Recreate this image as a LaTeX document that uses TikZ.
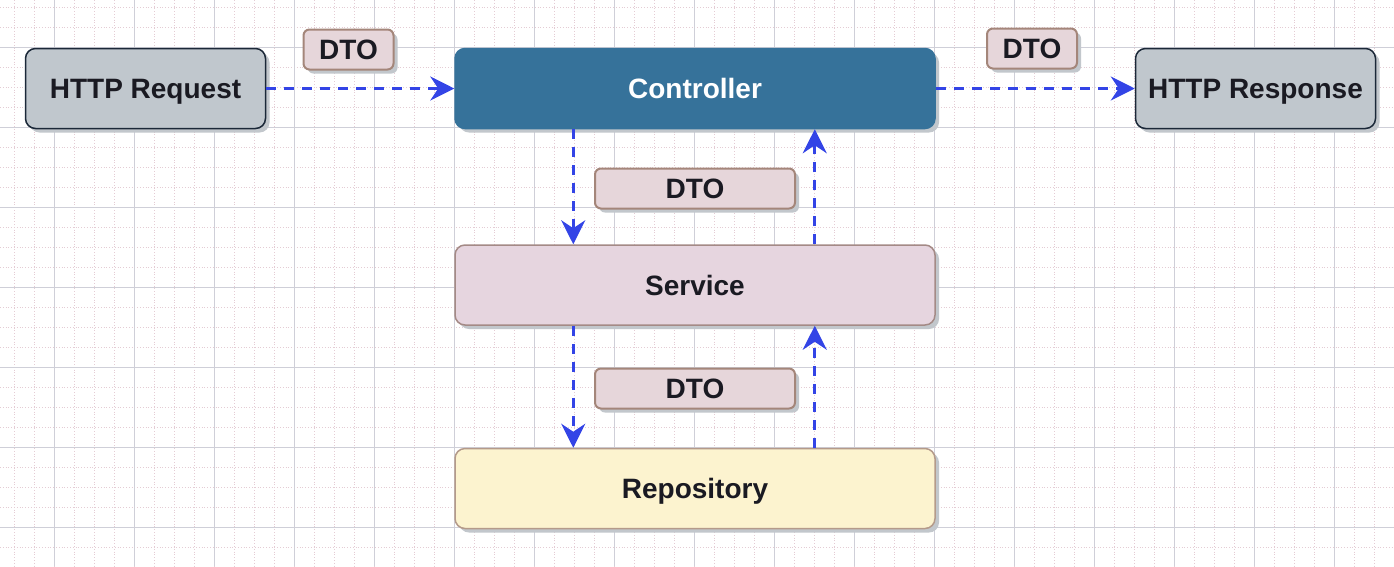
\documentclass[tikz,border=0pt]{standalone}
\usepackage{fontspec}
\setmainfont{Liberation Sans}
\usetikzlibrary{arrows.meta,shadows}
\definecolor{gridmaj}{HTML}{CFCFD8}
\definecolor{gridmin}{HTML}{E4CCD4}
\definecolor{arrowblue}{HTML}{3344E6}
\definecolor{greyfill}{HTML}{C0C7CD}
\definecolor{navyline}{HTML}{1B2838}
\definecolor{ctrlfill}{HTML}{36729A}
\definecolor{svcfill}{HTML}{E6D5DF}
\definecolor{svcline}{HTML}{A48A86}
\definecolor{repofill}{HTML}{FCF3CF}
\definecolor{repoline}{HTML}{B49A8A}
\definecolor{dtofill}{HTML}{E6D6DA}
\definecolor{dtoline}{HTML}{A4867A}
\definecolor{shadowgrey}{HTML}{C2C7CC}
\definecolor{textdark}{HTML}{1A1A22}
\tikzset{
  shade/.style={drop shadow={shadow xshift=4pt,shadow yshift=-4pt,fill=shadowgrey,opacity=1}},
  boxtext/.style={font=\fontsize{28}{30}\selectfont\bfseries,text=textdark,
    text height=20pt,text depth=0pt},
  bigbox/.style={shade,boxtext,rounded corners=10pt,minimum height=80pt,inner sep=0pt},
  endbox/.style={bigbox,minimum width=240pt,fill=greyfill,draw=navyline,line width=1.5pt},
  layerbox/.style={bigbox,minimum width=480pt,line width=1.5pt},
  dtobox/.style={shade,boxtext,rounded corners=6pt,minimum height=40pt,inner sep=0pt,fill=dtofill,
    draw=dtoline,line width=2pt},
  flow/.style={draw=arrowblue,line width=3pt,dash pattern=on 10pt off 8pt,
    -{Stealth[length=24pt,width=24pt,inset=8pt]}}
}
\begin{document}
\begin{tikzpicture}[x=1pt,y=-1pt]
\useasboundingbox (0,0) rectangle (1394,566);
\fill[white] (0,0) rectangle (1394,566);
% grid
\foreach \x in {14,34,...,1394} \draw[gridmin,line width=0.8pt,dotted] (\x,0) -- (\x,566);
\foreach \y in {7,27,...,566} \draw[gridmin,line width=0.8pt,dotted] (0,\y) -- (1394,\y);
\foreach \x in {54,134,...,1394} \draw[gridmaj,line width=1pt] (\x,0) -- (\x,566);
\foreach \y in {47,127,...,566} \draw[gridmaj,line width=1pt] (0,\y) -- (1394,\y);
% nodes
\node[endbox] (req) at (145.5,88.5) {HTTP Request};
\node[layerbox,fill=ctrlfill,draw=ctrlfill,text=white] (ctrl) at (695,88.5) {Controller};
\node[endbox] (resp) at (1255.5,88.5) {HTTP Response};
\node[layerbox,fill=svcfill,draw=svcline] (svc) at (695,285) {Service};
\node[layerbox,fill=repofill,draw=repoline] (repo) at (695,488.5) {Repository};
\node[dtobox,minimum width=90pt] (dto1) at (348.5,49.5) {DTO};
\node[dtobox,minimum width=90pt] (dto2) at (1032,48.5) {DTO};
\node[dtobox,minimum width=200pt] (dto3) at (695,188.5) {DTO};
\node[dtobox,minimum width=200pt] (dto4) at (695,388.5) {DTO};
% connectors
\draw[flow] (req.east) -- (ctrl.west);
\draw[flow] (ctrl.east) -- (resp.west);
\draw[flow] ([xshift=119pt]ctrl.south west) -- ([xshift=119pt]svc.north west);
\draw[flow] ([xshift=-121pt]svc.north east) -- ([xshift=-121pt]ctrl.south east);
\draw[flow] ([xshift=119pt]svc.south west) -- ([xshift=119pt]repo.north west);
\draw[flow] ([xshift=-121pt]repo.north east) -- ([xshift=-121pt]svc.south east);
\end{tikzpicture}
\end{document}
